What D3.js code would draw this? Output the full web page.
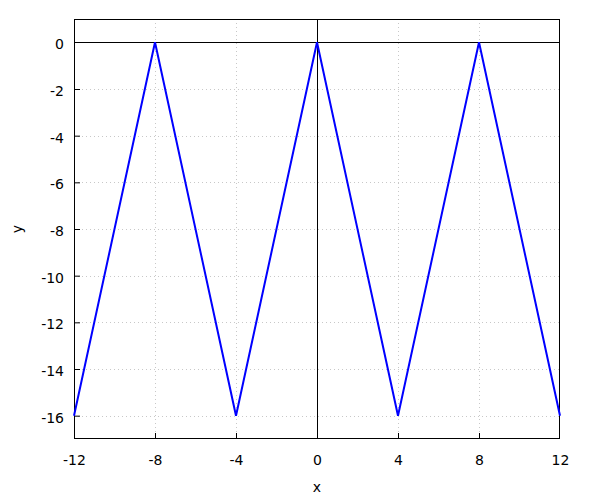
<!DOCTYPE html>
<html><head><meta charset="utf-8">
<script src="https://cdn.jsdelivr.net/npm/d3@7"></script>
<style>body{margin:0;background:#fff}text{font-family:"DejaVu Sans",sans-serif;font-size:14px;fill:#000}</style>
</head><body><svg id="c" width="600" height="500"></svg>
<script>
const xs = [-12, -8, -4, 0, 4, 8, 12];
const ys = [-16, 0, -16, 0, -16, 0, -16];
const xTicks = [-12, -8, -4, 0, 4, 8, 12];
const yTicks = [0, -2, -4, -6, -8, -10, -12, -14, -16];
const xLabel = "x", yLabel = "y";

const FONT = '"DejaVu Sans",sans-serif';
const svg = d3.select("#c");
const L = 74, R = 560, T = 19, B = 439;
const x = d3.scaleLinear().domain([-12, 12]).range([L, R]);
const y = d3.scaleLinear().domain([-17, 1]).range([B, T]);
const fmt = d => String(d);

// grid
const g = svg.append("g");
g.selectAll(".gx").data(xTicks.filter(d => d > -12 && d < 12)).enter().append("line")
  .attr("x1", d => Math.round(x(d)) + 0.5).attr("x2", d => Math.round(x(d)) + 0.5).attr("y1", T).attr("y2", B)
  .attr("stroke", "#c8c8c8").attr("stroke-dasharray", "1,3");
g.selectAll(".gy").data(yTicks).enter().append("line")
  .attr("x1", L).attr("x2", R).attr("y1", d => Math.round(y(d)) + 0.5).attr("y2", d => Math.round(y(d)) + 0.5)
  .attr("stroke", "#c8c8c8").attr("stroke-dasharray", "1,3");

// zero axes
svg.append("line").attr("x1", L).attr("x2", R).attr("y1", Math.round(y(0)) + 0.5).attr("y2", Math.round(y(0)) + 0.5).attr("stroke", "#000");
svg.append("line").attr("x1", Math.round(x(0)) + 0.5).attr("x2", Math.round(x(0)) + 0.5).attr("y1", T).attr("y2", B).attr("stroke", "#000");

// axes with inward ticks
const xa = svg.append("g").attr("transform", `translate(0,${B})`)
  .call(d3.axisBottom(x).tickValues(xTicks).tickSizeInner(-6).tickSizeOuter(0).tickPadding(16).tickFormat(fmt));
const ya = svg.append("g").attr("transform", `translate(${L},0)`)
  .call(d3.axisLeft(y).tickValues(yTicks).tickSizeInner(-6).tickSizeOuter(0).tickPadding(10).tickFormat(fmt));
[xa, ya].forEach(a => { a.select(".domain").remove(); a.selectAll("text").style("font-family", FONT).style("font-size", "14px").attr("fill", "#000"); a.selectAll("line").attr("stroke", "#000"); });
ya.selectAll("text").attr("dy", "0.47em");
ya.selectAll(".tick").filter(d => d === 0).select("line").remove();
xa.selectAll(".tick").filter(d => d === 0 || d === -12 || d === 12).select("line").remove();

// frame
svg.append("rect").attr("x", L + 0.5).attr("y", T + 0.5).attr("width", R - L - 1).attr("height", B - T - 1)
  .attr("fill", "none").attr("stroke", "#000");

// data line
svg.append("path").datum(xs.map((d, i) => [d, ys[i]]))
  .attr("d", d3.line().x(d => x(d[0])).y(d => y(d[1])))
  .attr("fill", "none").attr("stroke", "#0000ff").attr("stroke-width", 2);

svg.append("text").attr("x", (L + R) / 2).attr("y", 492).attr("text-anchor", "middle").text(xLabel);
svg.append("text").attr("transform", `translate(22,${(T + B) / 2}) rotate(-90)`).attr("text-anchor", "middle").text(yLabel);
</script></body></html>
